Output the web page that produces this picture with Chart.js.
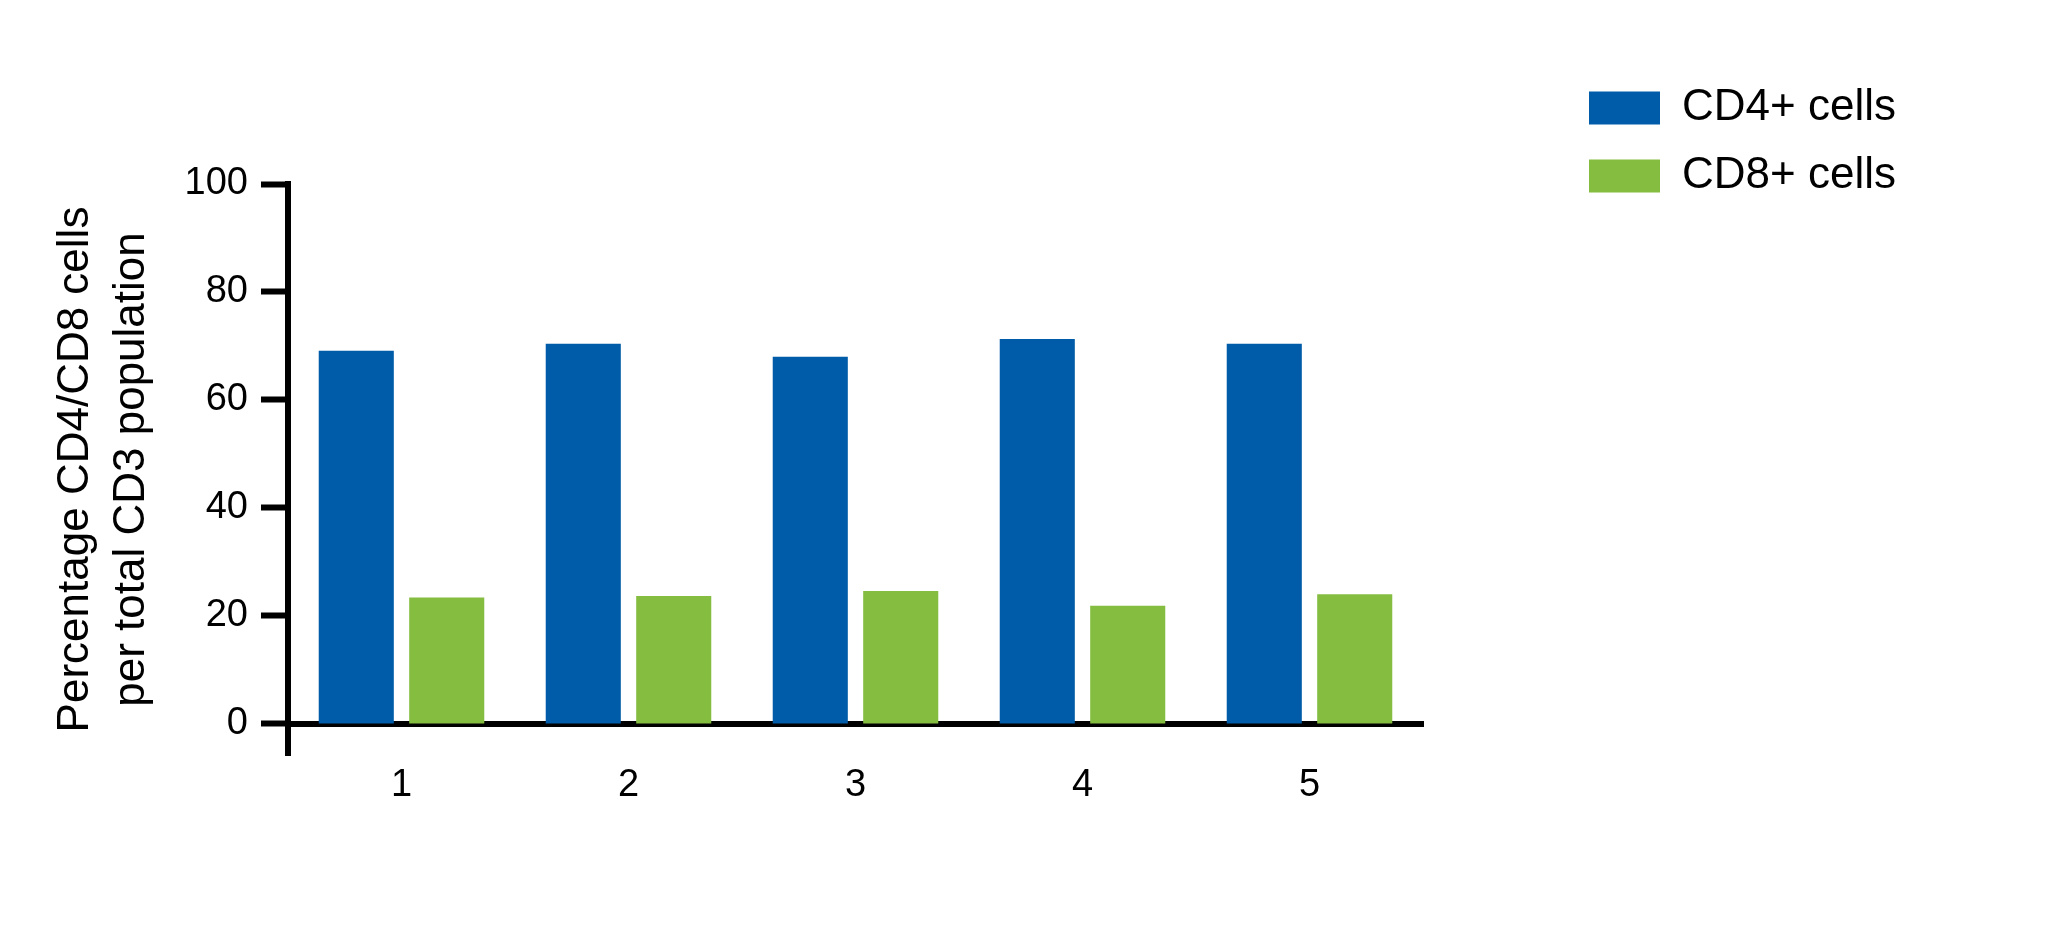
<!DOCTYPE html>
<html lang="en">

<head>
    <meta charset="UTF-8">
    <title>CD4/CD8 per CD3</title>
    <script src="https://cdn.jsdelivr.net/npm/chart.js"></script>
</head>

<body>
    <div class="chart-box"><canvas id="cellChart" width="2048" height="934"></canvas></div>
</body>

</html>

<script>
    // values
    const donors = ["1", "2", "3", "4", "5"];
    const cd4Values = [69.1, 70.4, 68.0, 71.3, 70.4];
    const cd8Values = [23.4, 23.7, 24.6, 21.9, 24.0];
    const yTicks = [0, 20, 40, 60, 80, 100];
    const seriesNames = ["CD4+ cells", "CD8+ cells"];
    const yTitle = ["Percentage CD4/CD8 cells", "per total CD3 population"];

    const blue = "#005BA8";
    const green = "#84BD40";
    const fontFamily = "'Liberation Sans', Arial, sans-serif";

    // the legend is kept at a fixed width so the items land where they should
    const legendWidth = 483;
    const fixLegend = {
        id: "fixLegend",
        beforeLayout(chart) {
            const lg = chart.legend;
            if (!lg || lg._fixed) return;
            const fit = lg.fit;
            lg.fit = function () {
                fit.call(this);
                this.width = legendWidth;
            };
            lg._fixed = true;
        }
    };

    const ctx = document.getElementById("cellChart").getContext("2d");

    new Chart(ctx, {
        type: "bar",
        data: {
            labels: donors,
            datasets: [
                { label: seriesNames[0], data: cd4Values, backgroundColor: blue, borderWidth: 0 },
                { label: seriesNames[1], data: cd8Values, backgroundColor: green, borderWidth: 0 }
            ]
        },
        options: {
            responsive: false,
            devicePixelRatio: 1,
            animation: false,
            categoryPercentage: 0.797,
            barPercentage: 0.83,
            layout: { padding: { top: 62, right: 0, bottom: 179, left: 0 } },
            plugins: {
                tooltip: { enabled: false },
                legend: {
                    position: "right",
                    align: "start",
                    labels: {
                        boxWidth: 71,
                        boxHeight: 33,
                        padding: 24,
                        color: "#000",
                        font: { family: fontFamily, size: 44 }
                    }
                }
            },
            scales: {
                x: {
                    position: { y: 0 },
                    z: 1,
                    grid: { display: false, drawTicks: false, tickLength: 0 },
                    border: { display: true, width: 6, color: "#000" },
                    ticks: {
                        padding: 39,
                        color: "#000",
                        font: { family: fontFamily, size: 38 }
                    }
                },
                y: {
                    position: "left",
                    min: -5.75,
                    max: 100,
                    afterBuildTicks: scale => {
                        scale.ticks = yTicks.map(v => ({ value: v }));
                    },
                    afterFit: scale => { scale.width = 288; },
                    grid: {
                        drawOnChartArea: false,
                        drawTicks: true,
                        tickLength: 27,
                        tickWidth: 6,
                        tickColor: "#000"
                    },
                    border: { display: true, width: 6, color: "#000" },
                    ticks: {
                        padding: 13,
                        color: "#000",
                        font: { family: fontFamily, size: 38 }
                    },
                    title: {
                        display: true,
                        text: yTitle,
                        color: "#000",
                        padding: { top: 48, bottom: 0 },
                        font: { family: fontFamily, size: 44, lineHeight: 1.27 }
                    }
                },
                // empty spacer axes: room above the plot and between plot and legend
                spaceTop: {
                    type: "category",
                    position: "top",
                    afterFit: scale => { scale.height = 122; },
                    grid: { display: false },
                    border: { display: false },
                    ticks: { display: false }
                },
                spaceRight: {
                    type: "linear",
                    position: "right",
                    afterFit: scale => { scale.width = 142; },
                    grid: { display: false },
                    border: { display: false },
                    ticks: { display: false }
                }
            }
        },
        plugins: [fixLegend]
    });
</script>

<style>
    body {
        margin: 0;
        background-color: white;
    }

    .chart-box {
        width: 2048px;
        height: 934px;
    }
</style>
